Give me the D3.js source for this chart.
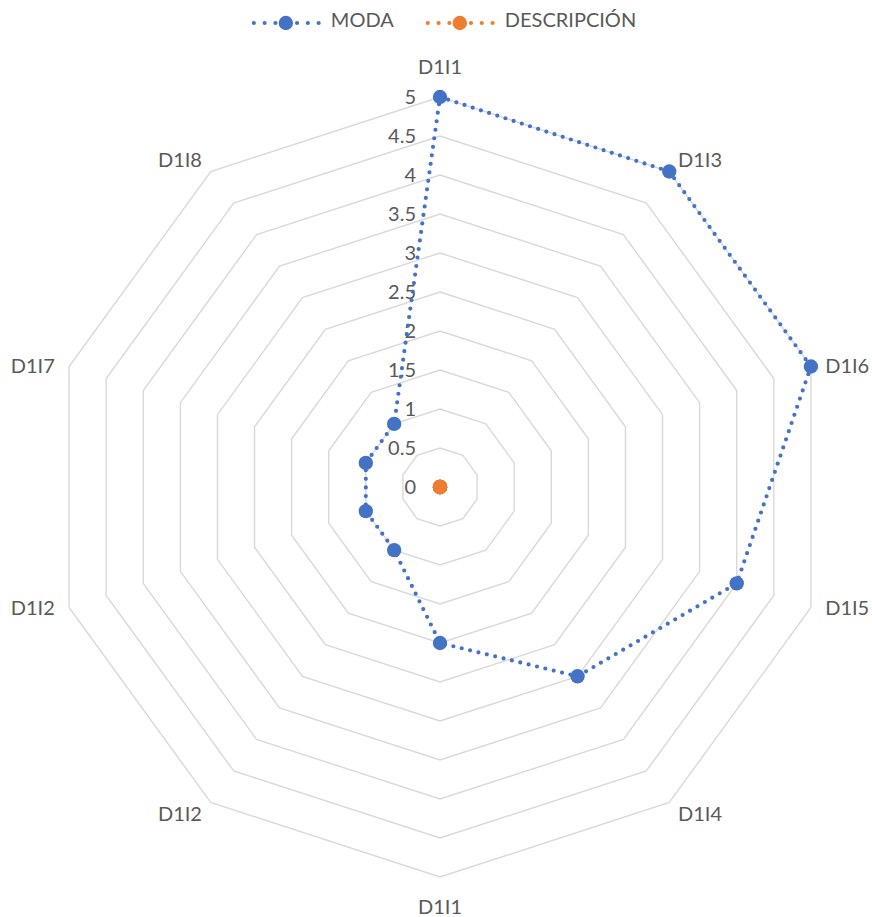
<!DOCTYPE html>
<html>
<head>
<meta charset="utf-8">
<script src="https://cdn.jsdelivr.net/npm/d3@7"></script>
<style>
  html, body { margin: 0; padding: 0; background: #ffffff; }
  svg { display: block; font-family: Lato, "Open Sans", sans-serif; }
</style>
</head>
<body>
<svg id="chart" width="872" height="917"></svg>
<script>
// Radar chart: MODA vs DESCRIPCIÓN per indicator
const categories = ["D1I1", "D1I3", "D1I6", "D1I5", "D1I4", "D1I1", "D1I2", "D1I2", "D1I7", "D1I8"];
const modaValues = [5, 5, 5, 4, 3, 2, 1, 1, 1, 1];
const descripcionValues = [0, 0, 0, 0, 0, 0, 0, 0, 0, 0];
const tickValues = [0, 0.5, 1, 1.5, 2, 2.5, 3, 3.5, 4, 4.5, 5];
const seriesNames = ["MODA", "DESCRIPCIÓN"];
const seriesColors = ["#4472C4", "#ED7D31"];

const W = 872, H = 917;
const cx = 440, cy = 487, radius = 390;
const textColor = "#595959";
const fontSize = 20;

const svg = d3.select("#chart");

const n = categories.length;
const angle = d3.scalePoint().domain(d3.range(n)).range([0, 2 * Math.PI * (n - 1) / n]);
const r = d3.scaleLinear().domain([0, 5]).range([0, radius]);

const pt = (i, v) => [cx + Math.sin(angle(i)) * r(v), cy - Math.cos(angle(i)) * r(v)];

// Decagonal gridlines
const grid = svg.append("g");
tickValues.filter(t => t > 0).forEach(t => {
  grid.append("path")
    .attr("d", d3.line()(d3.range(n).map(i => pt(i, t))) + "Z")
    .attr("fill", "none")
    .attr("stroke", "#D9D9D9")
    .attr("stroke-width", 1.4);
});

// Value axis labels along the top spoke
svg.append("g").selectAll("text")
  .data(tickValues)
  .join("text")
  .attr("x", cx - 24)
  .attr("y", d => cy - r(d))
  .attr("dy", "0.36em")
  .attr("text-anchor", "end")
  .attr("fill", textColor)
  .attr("font-size", fontSize)
  .text(d => String(d));

// Category labels around the rim
svg.append("g").selectAll("text")
  .data(categories)
  .join("text")
  .each(function (d, i) {
    const a = angle(i), s = Math.sin(a), c = Math.cos(a);
    const anchor = Math.abs(s) < 0.1 ? "middle" : (s > 0 ? "start" : "end");
    const ry = 392 + 28 * Math.pow(c, 4);
    d3.select(this)
      .attr("x", cx + s * 405)
      .attr("y", cy - c * ry)
      .attr("dy", "0.36em")
      .attr("text-anchor", anchor);
  })
  .attr("fill", textColor)
  .attr("font-size", fontSize)
  .text(d => d);

// Series lines and markers
const series = [modaValues, descripcionValues];
const lineGen = d3.line().x(d => d[0]).y(d => d[1]).curve(d3.curveLinearClosed);
series.forEach((vals, si) => {
  const pts = vals.map((v, i) => pt(i, v));
  const g = svg.append("g");
  g.append("path")
    .attr("d", lineGen(pts))
    .attr("fill", "none")
    .attr("stroke", seriesColors[si])
    .attr("stroke-width", 4.2)
    .attr("stroke-linecap", "round")
    .attr("stroke-dasharray", "0 8.6");
  g.selectAll("circle")
    .data(pts)
    .join("circle")
    .attr("cx", d => d[0])
    .attr("cy", d => d[1])
    .attr("r", 7.2)
    .attr("fill", seriesColors[si]);
});

// Legend
const legend = svg.append("g");
const legendY = 21;
const lineLen = 68, textGap = 11, entryGap = 32;
const items = seriesNames.map((name, i) => {
  const t = legend.append("text")
    .attr("y", legendY)
    .attr("dy", "0.3em")
    .attr("fill", textColor)
    .attr("font-size", fontSize)
    .text(name);
  return { t, w: t.node().getComputedTextLength(), color: seriesColors[i] };
});
const total = d3.sum(items, d => lineLen + textGap + d.w) + entryGap * (items.length - 1);
let x0 = 444 - total / 2;
items.forEach(it => {
  legend.append("line")
    .attr("x1", x0 + 2).attr("x2", x0 + lineLen)
    .attr("y1", legendY + 2).attr("y2", legendY + 2)
    .attr("stroke", it.color)
    .attr("stroke-width", 4.2)
    .attr("stroke-linecap", "round")
    .attr("stroke-dasharray", "0 10.8");
  legend.append("circle")
    .attr("cx", x0 + lineLen / 2).attr("cy", legendY + 2)
    .attr("r", 7.2).attr("fill", it.color);
  it.t.attr("x", x0 + lineLen + textGap);
  x0 += lineLen + textGap + it.w + entryGap;
});
</script>
</body>
</html>
